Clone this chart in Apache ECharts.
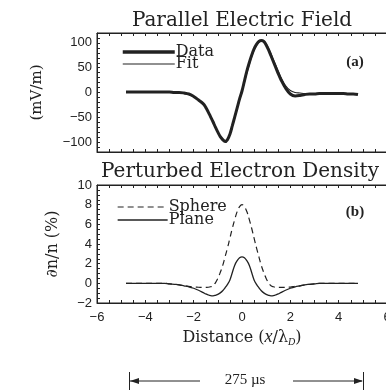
<!DOCTYPE html>
<html><head><meta charset="utf-8">
<script src="https://cdn.jsdelivr.net/npm/echarts@6/dist/echarts.min.js"></script>
<style>html,body{margin:0;padding:0;background:#fff}#c{width:386px;height:390px}</style>
</head><body><div id="c"></div>
<script>
var xs = [-4.8,-4.6,-4.4,-4.2,-4.0,-3.8,-3.6,-3.4,-3.2,-3.0,-2.8,-2.6,-2.4,-2.2,-2.0,-1.8,
  -1.6,-1.5,-1.4,-1.3,-1.2,-1.1,-1.0,-0.9,-0.8,-0.7,-0.6,-0.5,-0.4,-0.3,-0.2,-0.1,0.0,
  0.1,0.2,0.3,0.4,0.5,0.6,0.7,0.8,0.9,1.0,1.1,1.2,1.3,1.4,1.5,1.6,
  1.8,2.0,2.2,2.4,2.6,2.8,3.0,3.2,3.4,3.6,3.8,4.0,4.2,4.4,4.6,4.8];
var eData = [1,1,1,1,1,1,1,1,1,1,0,0,-1,-3,-8,-15,
  -23,-30,-39,-49,-59,-70,-80,-89,-95,-99,-95,-84,-67,-49,-31,-13,3,
  23,43,60,75,88,97,103,105,103,96,86,74,62,50,38,27,
  9,-3,-7,-6,-4,-3,-3,-2,-2,-2,-2,-2,-2,-3,-3,-4];
var eFit = [0,0,0,0,0,0,0,0,0,0,0,-1,-2,-4,-8,-15,
  -23,-30,-38,-48,-58,-69,-79,-88,-94,-97,-94,-85,-69,-51,-33,-15,2,
  21,39,56,72,85,95,101,104,103,98,89,78,66,55,43,32,
  14,4,0,-1,-2,-2,-2,-2,-2,-2,-2,-2,-2,-2,-3,-3];
var dnSphere = [0,0,0,0,0,0,0,0,0,-0.05,-0.1,-0.15,-0.25,-0.3,-0.38,-0.4,
  -0.42,-0.42,-0.4,-0.35,-0.25,0.05,0.5,1.1,1.8,2.7,3.6,4.6,5.6,6.5,7.3,7.8,8,
  7.8,7.3,6.5,5.6,4.6,3.6,2.7,1.8,1.1,0.5,0.05,-0.25,-0.35,-0.4,-0.42,-0.42,
  -0.4,-0.38,-0.3,-0.25,-0.15,-0.1,-0.05,0,0,0,0,0,0,0,0,0];
var dnPlane = [0,0,0,0,0,0,0,0,0,-0.05,-0.1,-0.15,-0.25,-0.35,-0.5,-0.7,
  -0.95,-1.08,-1.18,-1.25,-1.27,-1.22,-1.12,-0.97,-0.75,-0.45,-0.1,0.35,1.1,1.85,2.3,2.6,2.7,
  2.6,2.3,1.85,1.1,0.35,-0.1,-0.45,-0.75,-0.97,-1.12,-1.22,-1.27,-1.25,-1.18,-1.08,-0.95,
  -0.7,-0.5,-0.35,-0.25,-0.15,-0.1,-0.05,0,0,0,0,0,0,0,0,0];
var xTicks = [-6,-4,-2,0,2,4,6];
var eTicks = [-100,-50,0,50,100];
var dnTicks = [-2,0,2,4,6,8,10];

function pairs(a){ return xs.map(function(x,i){ return [x,a[i]]; }); }
function minus(v){ return String(v).replace('-', '\u2212'); }
var ink = '#222';
var tickFont = {fontFamily:'Liberation Sans', fontSize:13, color:ink};
var serif = 'DejaVu Serif';

function xAx(grid, showLabel, pos){
  return {type:'value', gridIndex:grid, min:-6, max:6, interval:0.5, position:pos,
    axisLine:{show:true, onZero:false, lineStyle:{color:ink,width:1}},
    axisTick:{show:true, inside:true, length:3, lineStyle:{color:ink}},
    splitLine:{show:false},
    axisLabel:{show:showLabel, margin:8, fontFamily:'Liberation Sans', fontSize:13, color:ink,
      formatter:function(v){ return xTicks.indexOf(v)>=0 ? minus(v) : ''; }},
    name: showLabel ? '{t|Distance (}{i|x}{t|/\u03bb}{s|D}{t|)}' : '',
    nameLocation:'middle', nameGap:25,
    nameTextStyle:{rich:{t:{fontFamily:serif,fontSize:16,color:ink},
      i:{fontFamily:'Liberation Serif',fontStyle:'italic',fontSize:18,color:ink},
      s:{fontFamily:'Liberation Serif',fontStyle:'italic',fontSize:10,color:ink,verticalAlign:'bottom',padding:[9,0,0,0]}}}
  };
}
var legendText = {fontFamily:serif,fontSize:16,lineHeight:13,color:ink,padding:[0,0,0,-4]};
var option = {
  animation:false,
  backgroundColor:'#fff',
  grid:[
    {left:97, top:33, width:290, height:119, show:true, borderColor:ink, borderWidth:1, outerBoundsMode:'none'},
    {left:97, top:185, width:290, height:118, show:true, borderColor:ink, borderWidth:1, outerBoundsMode:'none'}
  ],
  xAxis:[ xAx(0,false,'bottom'), xAx(0,false,'top'), xAx(1,true,'bottom'), xAx(1,false,'top') ],
  yAxis:[
    {type:'value', gridIndex:0, min:-120, max:120, interval:10,
      axisLine:{show:true, onZero:false, lineStyle:{color:ink}}, axisTick:{inside:true,length:3,lineStyle:{color:ink}}, splitLine:{show:false},
      axisLabel:Object.assign({margin:5, formatter:function(v){ return eTicks.indexOf(v)>=0 ? minus(v) : ''; }}, tickFont),
      name:'(mV/m)', nameLocation:'middle', nameGap:52, nameTextStyle:{fontFamily:serif,fontSize:15,color:ink}},
    {type:'value', gridIndex:1, min:-2, max:10, interval:0.5,
      axisLine:{show:true, onZero:false, lineStyle:{color:ink}}, axisTick:{inside:true,length:3,lineStyle:{color:ink}}, splitLine:{show:false},
      axisLabel:Object.assign({margin:5, formatter:function(v){ return dnTicks.indexOf(v)>=0 ? minus(v) : ''; }}, tickFont),
      name:'\u2202n/n (%)', nameLocation:'middle', nameGap:36, nameTextStyle:{fontFamily:serif,fontSize:16,color:ink}}
  ],
  legend:[
    {data:[{name:'Data', lineStyle:{width:3.5}}, {name:'Fit', lineStyle:{width:1.2}}], orient:'vertical', left:116, top:39, itemWidth:52, itemHeight:10, itemGap:-4,
      itemStyle:{opacity:0}, textStyle:legendText},
    {data:[{name:'Sphere', lineStyle:{width:1.2, type:[6,4]}}, {name:'Plane', lineStyle:{width:1.3}}], orient:'vertical', left:112, top:194, itemWidth:50, itemHeight:10, itemGap:-3,
      itemStyle:{opacity:0}, textStyle:legendText}
  ],
  series:[
    {name:'Data', type:'line', xAxisIndex:0, yAxisIndex:0, data:pairs(eData), smooth:0.4, symbol:'none',
      lineStyle:{color:ink, width:3}, itemStyle:{color:ink}},
    {name:'Fit', type:'line', xAxisIndex:0, yAxisIndex:0, data:pairs(eFit), smooth:0.4, symbol:'none',
      lineStyle:{color:ink, width:1.1}, itemStyle:{color:ink}},
    {name:'Sphere', type:'line', xAxisIndex:2, yAxisIndex:1, data:pairs(dnSphere), smooth:0.4, symbol:'none',
      lineStyle:{color:ink, width:1.2, type:[6,4]}, itemStyle:{color:ink}},
    {name:'Plane', type:'line', xAxisIndex:2, yAxisIndex:1, data:pairs(dnPlane), smooth:0.4, symbol:'none',
      lineStyle:{color:ink, width:1.3}, itemStyle:{color:ink}}
  ],
  graphic:[
    {type:'text', x:242, y:21, style:{text:'Parallel Electric Field', fontFamily:serif, fontSize:20, fill:ink, textAlign:'center', textVerticalAlign:'middle'}},
    {type:'text', x:240, y:172, style:{text:'Perturbed Electron Density', fontFamily:serif, fontSize:20, fill:ink, textAlign:'center', textVerticalAlign:'middle'}},
    {type:'text', x:355, y:62, style:{text:'(a)', fontFamily:'Liberation Serif', fontSize:15, fontWeight:'bold', fill:ink, textAlign:'center', textVerticalAlign:'middle'}},
    {type:'text', x:355, y:212, style:{text:'(b)', fontFamily:'Liberation Serif', fontSize:15, fontWeight:'bold', fill:ink, textAlign:'center', textVerticalAlign:'middle'}},
    {type:'text', x:245, y:380, style:{text:'275 \u00b5s', fontFamily:'Liberation Serif', fontSize:15, fill:ink, textAlign:'center', textVerticalAlign:'middle'}},
    {type:'line', shape:{x1:130, y1:381, x2:200, y2:381}, style:{stroke:ink, lineWidth:1}},
    {type:'line', shape:{x1:293, y1:381, x2:362, y2:381}, style:{stroke:ink, lineWidth:1}},
    {type:'line', shape:{x1:129.5, y1:372, x2:129.5, y2:390}, style:{stroke:ink, lineWidth:1}},
    {type:'line', shape:{x1:363.5, y1:372, x2:363.5, y2:390}, style:{stroke:ink, lineWidth:1}},
    {type:'polygon', shape:{points:[[130,381],[139,378],[139,384]]}, style:{fill:ink}},
    {type:'polygon', shape:{points:[[363,381],[354,378],[354,384]]}, style:{fill:ink}}
  ]
};
echarts.init(document.getElementById('c')).setOption(option);
</script></body></html>
